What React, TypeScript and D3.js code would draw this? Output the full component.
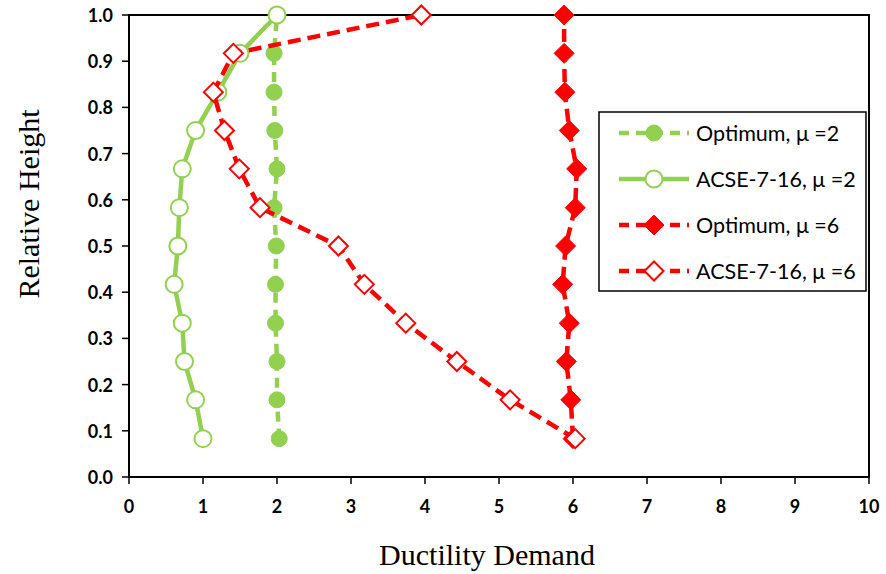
import * as d3 from "d3";

const WIDTH = 886;
const HEIGHT = 574;
const PLOT = { left: 129, right: 869, top: 15, bottom: 477 };

const GREEN = "#92D050";
const RED = "#FF0000";

// relative storey heights (12 storeys)
const heights = [0.083, 0.167, 0.25, 0.333, 0.417, 0.5, 0.583, 0.667, 0.75, 0.833, 0.917, 1.0];

const optimumMu2 = [2.03, 2.0, 2.0, 1.98, 1.98, 1.99, 1.96, 2.0, 1.97, 1.96, 1.96, 2.0];
const acseMu2 = [1.0, 0.9, 0.75, 0.72, 0.61, 0.66, 0.68, 0.72, 0.9, 1.2, 1.5, 2.0];
const optimumMu6 = [6.0, 5.97, 5.91, 5.95, 5.86, 5.9, 6.03, 6.05, 5.95, 5.89, 5.88, 5.88];
const acseMu6 = [6.03, 5.15, 4.43, 3.74, 3.18, 2.83, 1.77, 1.49, 1.29, 1.14, 1.41, 3.95];

const xTicks = [0, 1, 2, 3, 4, 5, 6, 7, 8, 9, 10];
const yTicks = [0, 0.1, 0.2, 0.3, 0.4, 0.5, 0.6, 0.7, 0.8, 0.9, 1.0];

type Marker = "filledCircle" | "openCircle" | "filledDiamond" | "openDiamond";

const seriesList: { name: string; values: number[]; color: string; dash: string | null; marker: Marker }[] = [
  { name: "Optimum, μ =2", values: optimumMu2, color: GREEN, dash: "10 7", marker: "filledCircle" },
  { name: "ACSE-7-16, μ =2", values: acseMu2, color: GREEN, dash: null, marker: "openCircle" },
  { name: "Optimum, μ =6", values: optimumMu6, color: RED, dash: "13 7", marker: "filledDiamond" },
  { name: "ACSE-7-16, μ =6", values: acseMu6, color: RED, dash: "13 7", marker: "openDiamond" },
];

function MarkerShape({ type, x, y, color }: { type: Marker; x: number; y: number; color: string }) {
  if (type === "filledCircle") {
    return <circle cx={x} cy={y} r={8} fill={color} stroke={color} strokeWidth={1} />;
  }
  if (type === "openCircle") {
    return <circle cx={x} cy={y} r={8.5} fill="#fff" stroke={color} strokeWidth={2} />;
  }
  const r = type === "filledDiamond" ? 10 : 9.5;
  const d = `M${x},${y - r}L${x + r},${y}L${x},${y + r}L${x - r},${y}Z`;
  return type === "filledDiamond" ? (
    <path d={d} fill={color} stroke={color} strokeWidth={1} />
  ) : (
    <path d={d} fill="#fff" stroke={color} strokeWidth={2} />
  );
}

export default function App() {
  const xScale = d3.scaleLinear().domain([0, 10]).range([PLOT.left, PLOT.right]);
  const yScale = d3.scaleLinear().domain([0, 1]).range([PLOT.bottom, PLOT.top]);

  const lineGen = d3
    .line<[number, number]>()
    .x((d) => xScale(d[0]))
    .y((d) => yScale(d[1]));

  const tickFont = "Lato, 'Open Sans', sans-serif";

  return (
    <svg
      width={WIDTH}
      height={HEIGHT}
      viewBox={`0 0 ${WIDTH} ${HEIGHT}`}
      style={{ position: "absolute", left: 0, top: 0, background: "#fff" }}
    >
      <rect x={0} y={0} width={WIDTH} height={HEIGHT} fill="#fff" />

      {/* plot frame */}
      <rect
        x={PLOT.left}
        y={PLOT.top}
        width={PLOT.right - PLOT.left}
        height={PLOT.bottom - PLOT.top}
        fill="none"
        stroke="#000"
        strokeWidth={2}
      />

      {/* y ticks */}
      {yTicks.map((t) => (
        <g key={`y${t}`}>
          <line x1={PLOT.left - 7} x2={PLOT.left} y1={yScale(t)} y2={yScale(t)} stroke="#000" strokeWidth={1.5} />
          <text
            x={PLOT.left - 16}
            y={yScale(t)}
            textAnchor="end"
            dominantBaseline="central"
            fontFamily={tickFont}
            fontWeight="bold"
            fontSize={18}
            fill="#000"
          >
            {t.toFixed(1)}
          </text>
        </g>
      ))}

      {/* x ticks */}
      {xTicks.map((t) => (
        <g key={`x${t}`}>
          <line x1={xScale(t)} x2={xScale(t)} y1={PLOT.bottom} y2={PLOT.bottom + 7} stroke="#000" strokeWidth={1.5} />
          <text
            x={xScale(t)}
            y={PLOT.bottom + 29}
            textAnchor="middle"
            dominantBaseline="central"
            fontFamily={tickFont}
            fontWeight="bold"
            fontSize={18}
            fill="#000"
          >
            {t}
          </text>
        </g>
      ))}

      {/* series */}
      {seriesList.map((s) => {
        const pts = s.values.map((v, i) => [v, heights[i]] as [number, number]);
        return (
          <g key={s.name}>
            <path
              d={lineGen(pts) ?? ""}
              fill="none"
              stroke={s.color}
              strokeWidth={4.5}
              strokeDasharray={s.dash ?? undefined}
              strokeLinejoin="round"
            />
            {pts.map((p, i) => (
              <MarkerShape key={i} type={s.marker} x={xScale(p[0])} y={yScale(p[1])} color={s.color} />
            ))}
          </g>
        );
      })}

      {/* legend */}
      <rect x={599} y={112} width={267} height={179} fill="#fff" stroke="#000" strokeWidth={1.5} />
      {seriesList.map((s, i) => {
        const y = 133 + i * 46;
        return (
          <g key={`leg${s.name}`}>
            <line
              x1={619}
              x2={689}
              y1={y}
              y2={y}
              stroke={s.color}
              strokeWidth={4.5}
              strokeDasharray={s.dash ? "10 7" : undefined}
            />
            <MarkerShape type={s.marker} x={654} y={y} color={s.color} />
            <text
              x={696}
              y={y}
              dominantBaseline="central"
              fontFamily="Lato, 'Open Sans', sans-serif"
              fontSize={21.5}
              fill="#000"
            >
              {s.name}
            </text>
          </g>
        );
      })}

      {/* axis titles */}
      <text
        x={487}
        y={554}
        textAnchor="middle"
        dominantBaseline="central"
        fontFamily="'Liberation Serif', 'Times New Roman', serif"
        fontSize={30}
        fill="#000"
      >
        Ductility Demand
      </text>
      <text
        transform="translate(28, 204) rotate(-90)"
        textAnchor="middle"
        dominantBaseline="central"
        fontFamily="'Liberation Serif', 'Times New Roman', serif"
        fontSize={30}
        fill="#000"
      >
        Relative Height
      </text>
    </svg>
  );
}
